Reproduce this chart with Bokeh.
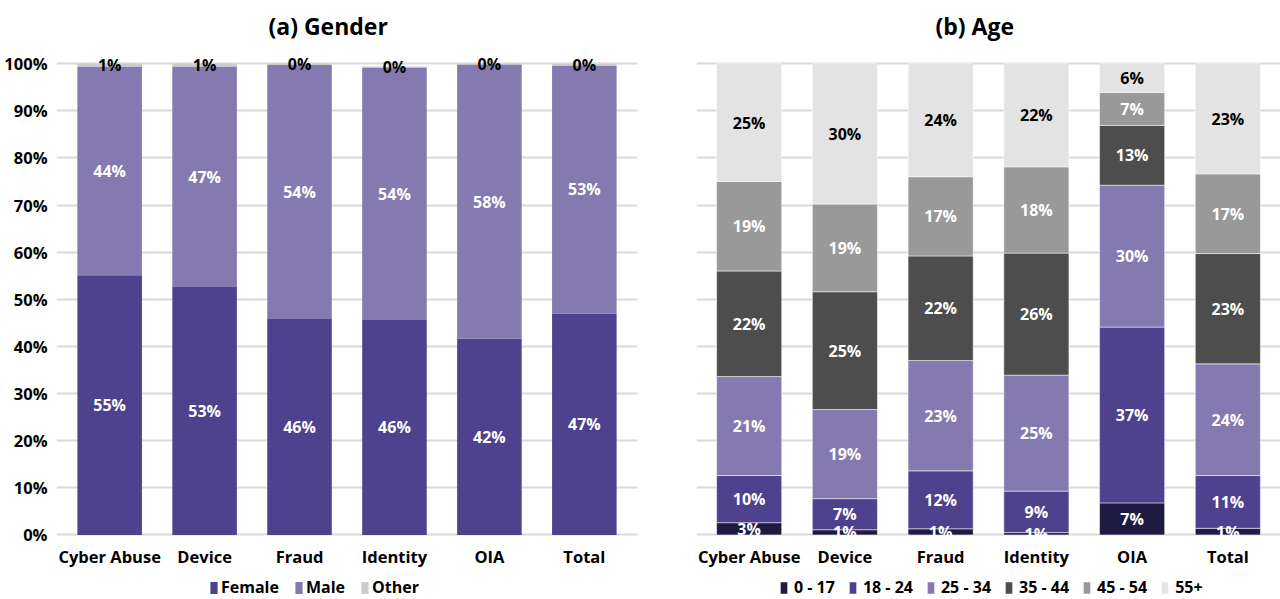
from bokeh.plotting import figure
from bokeh.layouts import row
from bokeh.models import (Range1d, FactorRange, FixedTicker, PrintfTickFormatter,
                          Legend, LegendItem, ColumnDataSource)
from bokeh.core.properties import value
from bokeh.embed import file_html
from bokeh.resources import INLINE

# ---------------- data ----------------
categories = ["Cyber Abuse", "Device", "Fraud", "Identity", "OIA", "Total"]

gender_labels = ["Female", "Male", "Other"]
female = [55.1, 52.6, 45.8, 45.6, 41.6, 47.0]
male = [44.3, 46.8, 53.9, 53.6, 58.2, 52.6]
other = [0.6, 0.6, 0.3, 0.2, 0.2, 0.3]

age_labels = ["0 - 17", "18 - 24", "25 - 34", "35 - 44", "45 - 54", "55+"]
age_0_17 = [2.6, 1.1, 1.3, 0.5, 6.8, 1.4]
age_18_24 = [10.0, 6.6, 12.3, 8.8, 37.3, 11.2]
age_25_34 = [21.0, 18.9, 23.4, 24.6, 30.1, 23.7]
age_35_44 = [22.4, 25.0, 22.2, 25.9, 12.7, 23.4]
age_45_54 = [19.0, 18.6, 16.8, 18.3, 7.0, 16.9]
age_55_plus = [25.0, 29.8, 24.0, 21.9, 6.1, 23.4]

y_ticks = list(range(0, 101, 10))

gender_colors = ["#4e418d", "#857ab0", "#cccccc"]
gender_text = ["white", "white", "black"]
age_colors = ["#1e1a40", "#4e418d", "#857ab0", "#4d4d4d", "#999999", "#e3e3e3"]
age_text = ["white", "white", "white", "white", "white", "black"]

FONT = "Open Sans"


def fmt(v):
    return "%d%%" % int(v + 0.5)


def build(title, series, names, colors, text_colors, width, mbl, mbr, pad,
          show_y, title_offset, legend_x, leg_spacing, leg_standoff):
    xr = FactorRange(*categories, range_padding=pad,
                     range_padding_units="absolute")
    p = figure(x_range=xr, y_range=Range1d(-13.7, 103), width=width,
               height=599, output_backend="svg", toolbar_location=None,
               min_border_left=mbl, min_border_right=mbr, min_border_top=49,
               min_border_bottom=0)
    data = {"cat": categories}
    keys = []
    for i, s in enumerate(series):
        k = "s%d" % i
        data[k] = s
        keys.append(k)
    src = ColumnDataSource(data)
    rs = p.vbar_stack(keys, x="cat", width=0.68, source=src, color=colors,
                      line_color="white" if len(series) > 3 else None,
                      line_alpha=0.5, line_width=1)

    # value labels at the centre of each segment
    for i, s in enumerate(series):
        ys, txt = [], []
        for j in range(len(categories)):
            bottom = sum(series[k][j] for k in range(i))
            ys.append(bottom + s[j] / 2.0)
            txt.append(fmt(s[j]))
        p.text(x=categories, y=ys, text=txt, text_align="center",
               text_baseline="middle", text_color=text_colors[i],
               text_font=value(FONT), text_font_size="16px",
               text_font_style="bold")

    p.title.text = title
    p.title.align = "left"
    p.title.offset = title_offset
    p.title.standoff = 15
    p.title.text_font = FONT
    p.title.text_font_size = "23px"
    p.title.text_font_style = "bold"
    p.title.text_color = "black"

    p.outline_line_color = None
    p.xgrid.visible = False
    p.ygrid.ticker = FixedTicker(ticks=y_ticks)
    p.ygrid.grid_line_color = "#d9d9d9"
    p.ygrid.grid_line_width = 2

    p.xaxis.fixed_location = 0
    p.xaxis.axis_line_color = None
    p.xaxis.major_tick_line_color = None
    p.xaxis.minor_tick_line_color = None
    p.xaxis.major_label_standoff = 4
    p.xaxis.major_label_text_font = FONT
    p.xaxis.major_label_text_font_size = "16.5px"
    p.xaxis.major_label_text_font_style = "bold"
    p.xaxis.major_label_text_color = "black"

    if show_y:
        p.yaxis.ticker = FixedTicker(ticks=y_ticks)
        p.yaxis.formatter = PrintfTickFormatter(format="%d%%")
        p.yaxis.axis_line_color = None
        p.yaxis.major_tick_line_color = None
        p.yaxis.minor_tick_line_color = None
        p.yaxis.major_label_standoff = 3
        p.yaxis.major_label_text_font = FONT
        p.yaxis.major_label_text_font_size = "16.5px"
        p.yaxis.major_label_text_font_style = "bold"
        p.yaxis.major_label_text_color = "black"
    else:
        p.yaxis.visible = False

    items = [LegendItem(label=n, renderers=[r]) for n, r in zip(names, rs)]
    legend = Legend(items=items, orientation="horizontal",
                    location=(legend_x, 1), margin=0, padding=0,
                    spacing=leg_spacing, label_standoff=leg_standoff,
                    glyph_width=9, glyph_height=15, border_line_color=None,
                    background_fill_alpha=0, label_text_font=FONT,
                    label_text_font_size="16px", label_text_font_style="bold",
                    label_text_color="black", label_height=18)
    p.add_layout(legend, "center")
    return p


p1 = build("(a) Gender", [female, male, other], gender_labels, gender_colors,
           gender_text, 680, 56, 43, 0.06, True, 212, 153, 15, 3)
p2 = build("(b) Age", [age_0_17, age_18_24, age_25_34, age_35_44, age_45_54,
                       age_55_plus], age_labels, age_colors, age_text,
           600, 16, 0, 0.05, False, 239, 83, 13, 6)

layout = row(p1, p2)
open("out.html", "w").write(file_html(layout, INLINE))
